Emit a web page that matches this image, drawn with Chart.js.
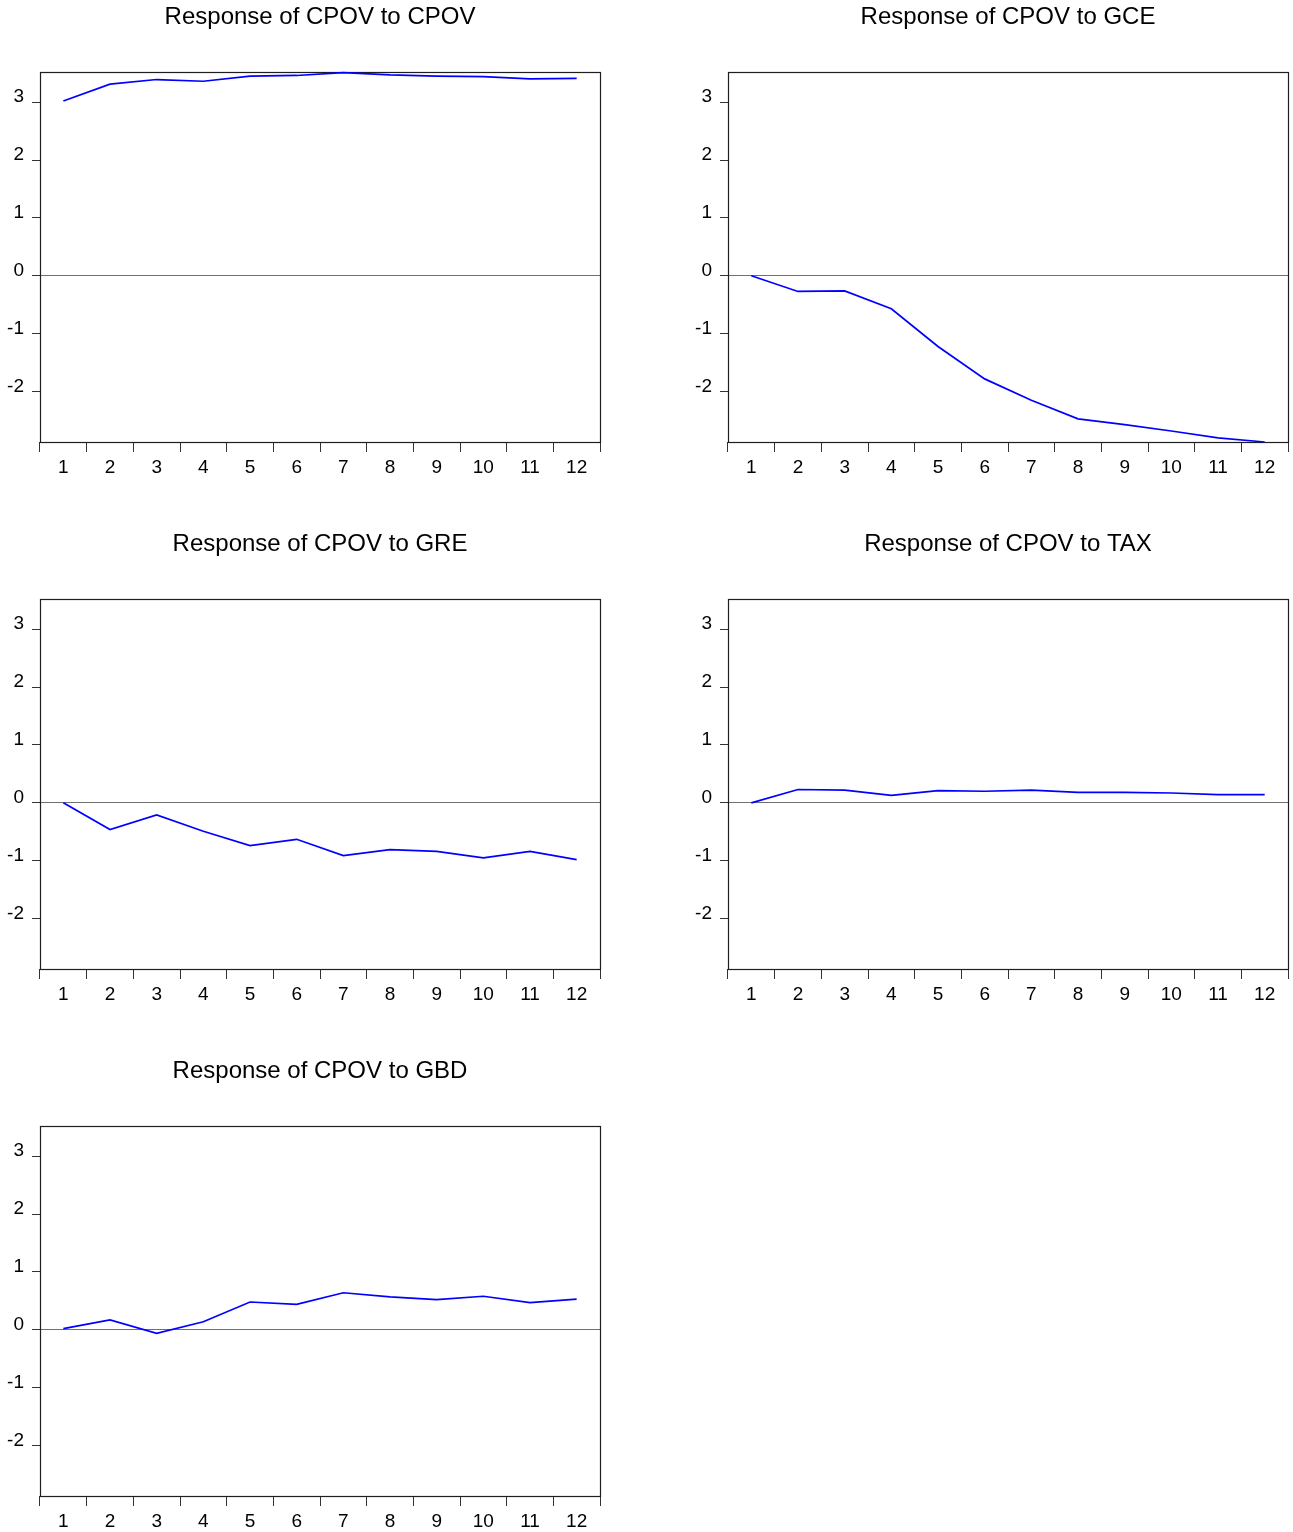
<!DOCTYPE html>
<html>
<head>
<meta charset="utf-8">
<script src="https://cdn.jsdelivr.net/npm/chart.js@4.4.1/dist/chart.umd.min.js"></script>
<style>
  body { margin: 0; background: #fff; overflow: hidden; }
  #wrap { position: relative; width: 1293px; height: 1532px; overflow: hidden; }
  #wrap canvas { position: absolute; }
</style>
</head>
<body>
<div id="wrap"></div>
<script>
const periods = ["1", "2", "3", "4", "5", "6", "7", "8", "9", "10", "11", "12"];
const yTicks = [-2, -1, 0, 1, 2, 3];
const yMin = -2.87;
const yMax = 3.52;

const panelTitles = [
  "Response of CPOV to CPOV",
  "Response of CPOV to GCE",
  "Response of CPOV to GRE",
  "Response of CPOV to TAX",
  "Response of CPOV to GBD",
];

const cpovToCpov = [3.02, 3.31, 3.39, 3.36, 3.45, 3.46, 3.51, 3.47, 3.45, 3.44, 3.40, 3.41];
const cpovToGce = [0, -0.27, -0.26, -0.57, -1.22, -1.78, -2.15, -2.47, -2.57, -2.68, -2.80, -2.87];
const cpovToGre = [0, -0.46, -0.21, -0.49, -0.74, -0.63, -0.91, -0.81, -0.84, -0.95, -0.84, -0.98];
const cpovToTax = [0, 0.23, 0.22, 0.13, 0.21, 0.20, 0.22, 0.18, 0.18, 0.17, 0.14, 0.14];
const cpovToGbd = [0.02, 0.17, -0.06, 0.14, 0.48, 0.44, 0.64, 0.57, 0.52, 0.58, 0.47, 0.53];

const seriesList = [cpovToCpov, cpovToGce, cpovToGre, cpovToTax, cpovToGbd];

const fontFamily = "'Liberation Sans', Arial, sans-serif";
const lineColor = "#0000ff";
const frameColor = "#1e1e1e";
const zeroColor = "#707070";

// frame around the plot area
const boxPlugin = {
  id: "box",
  beforeDatasetsDraw(chart) {
    const { ctx, chartArea: a } = chart;
    ctx.save();
    ctx.strokeStyle = frameColor;
    ctx.lineWidth = 1.2;
    ctx.strokeRect(
      Math.round(a.left) + 0.5,
      Math.round(a.top) + 0.5,
      Math.round(a.right - a.left),
      Math.round(a.bottom - a.top)
    );
    ctx.restore();
  },
};

document.addEventListener("DOMContentLoaded", () => {
  const wrap = document.getElementById("wrap");
  seriesList.forEach((values, i) => {
    const canvas = document.createElement("canvas");
    canvas.width = 640;
    canvas.height = 500;
    canvas.style.left = (i % 2 === 0 ? 0 : 688) + "px";
    canvas.style.top = Math.floor(i / 2) * 527 + "px";
    wrap.appendChild(canvas);
    makeChart(canvas, panelTitles[i], values);
  });
});

function makeChart(canvas, title, values) {
  return new Chart(canvas, {
    type: "line",
    data: {
      labels: periods,
      datasets: [
        {
          data: values,
          borderColor: lineColor,
          borderWidth: 1.7,
          pointRadius: 0,
          tension: 0,
          fill: false,
          clip: false,
        },
      ],
    },
    options: {
      responsive: false,
      animation: false,
      layout: { padding: { left: 0, right: 40, top: 0, bottom: 18 } },
      scales: {
        x: {
          type: "category",
          offset: true,
          afterFit: (s) => { s.height = 40; },
          grid: {
            offset: true,
            color: "rgba(0,0,0,0)",
            tickColor: "#333",
            tickLength: 10,
          },
          border: { display: false },
          ticks: {
            color: "#000",
            padding: 4,
            maxRotation: 0,
            autoSkip: false,
            font: { family: fontFamily, size: 19 },
          },
        },
        y: {
          min: yMin,
          max: yMax,
          afterFit: (s) => { s.width = 40; },
          afterBuildTicks: (s) => {
            s.ticks = yTicks.map((v) => ({ value: v }));
          },
          grid: {
            color: (c) => (c.tick && c.tick.value === 0 ? zeroColor : "rgba(0,0,0,0)"),
            lineWidth: 1,
            tickColor: "#333",
            tickLength: 8,
          },
          border: { display: false },
          ticks: {
            color: "#000",
            padding: 8,
            labelOffset: -5,
            font: { family: fontFamily, size: 19 },
          },
        },
      },
      plugins: {
        legend: { display: false },
        tooltip: { enabled: false },
        title: {
          display: true,
          fullSize: false,
          text: title,
          color: "#000",
          font: { family: fontFamily, size: 24, weight: "normal" },
          padding: { top: 3, bottom: 40.2 },
        },
      },
    },
    plugins: [boxPlugin],
  });
}
</script>
</body>
</html>
